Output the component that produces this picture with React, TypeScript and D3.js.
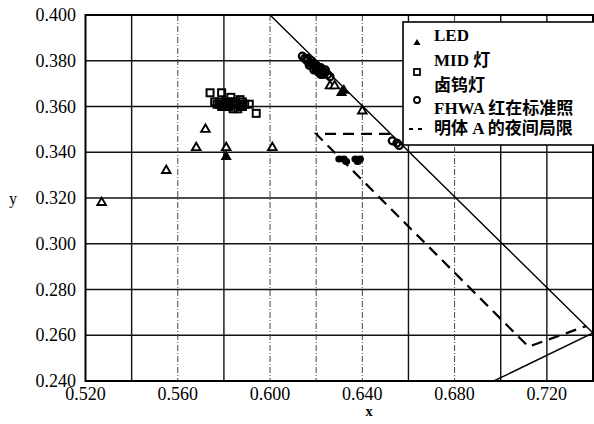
import React from "react";
import * as d3 from "d3";

const xTicks = [0.52, 0.56, 0.6, 0.64, 0.68, 0.72];
const xGrid = [0.54, 0.56, 0.58, 0.6, 0.62, 0.64, 0.66, 0.68, 0.7, 0.72];
const xGridDashed = [0.56, 0.6, 0.62, 0.64, 0.68];
const yTicks = [0.24, 0.26, 0.28, 0.3, 0.32, 0.34, 0.36, 0.38, 0.4];

const ledOpen: [number, number][] = [
  [0.527, 0.318], [0.555, 0.332], [0.568, 0.342], [0.572, 0.350],
  [0.581, 0.342], [0.601, 0.342], [0.626, 0.369], [0.628, 0.369], [0.640, 0.358],
];
const ledFilled: [number, number][] = [
  [0.581, 0.338], [0.631, 0.366], [0.632, 0.367],
];
const midLamp: [number, number][] = [
  [0.574, 0.366], [0.579, 0.366], [0.583, 0.364], [0.587, 0.363], [0.591, 0.361], [0.594, 0.357],
  [0.576, 0.362], [0.577, 0.361], [0.578, 0.362], [0.579, 0.360], [0.580, 0.361], [0.581, 0.362],
  [0.582, 0.360], [0.583, 0.361], [0.584, 0.359], [0.585, 0.362], [0.586, 0.361], [0.587, 0.360],
  [0.588, 0.362], [0.589, 0.361], [0.578, 0.361], [0.580, 0.360], [0.582, 0.362], [0.584, 0.361],
  [0.586, 0.359], [0.588, 0.360],
];
const halogen: [number, number][] = [
  [0.614, 0.382], [0.615, 0.381], [0.616, 0.380], [0.617, 0.379], [0.618, 0.379], [0.619, 0.378],
  [0.620, 0.377], [0.621, 0.377], [0.622, 0.376], [0.623, 0.375], [0.624, 0.375], [0.625, 0.374],
  [0.626, 0.373], [0.619, 0.376], [0.621, 0.375], [0.623, 0.374], [0.616, 0.381], [0.618, 0.380],
  [0.620, 0.378], [0.622, 0.377], [0.624, 0.376], [0.617, 0.378], [0.620, 0.376], [0.622, 0.374],
  [0.653, 0.345], [0.655, 0.344], [0.656, 0.343],
];
const filledBlobs: [number, number][] = [
  [0.630, 0.337], [0.632, 0.337], [0.633, 0.336], [0.637, 0.337], [0.638, 0.336], [0.639, 0.337],
];
const fhwaBoundary: [number, number][] = [[0.6, 0.4], [0.74, 0.261], [0.697, 0.24]];
const nightLimit: [number, number][] = [[0.652, 0.348], [0.62, 0.348], [0.712, 0.255], [0.737, 0.264]];

const legendLabels = ["LED", "MID 灯", "卤钨灯", "FHWA 红在标准照", "明体 A 的夜间局限"];

const W = 594, H = 424;
const x = d3.scaleLinear().domain([0.52, 0.74]).range([85.5, 593]);
const y = d3.scaleLinear().domain([0.24, 0.4]).range([381, 15]);
const line = d3.line<[number, number]>().x((d) => x(d[0])).y((d) => y(d[1]));
const tri = d3.symbol().type(d3.symbolTriangle).size(32)();
const triSmall = d3.symbol().type(d3.symbolTriangle).size(22)();

const FONT = "'Liberation Serif', 'Times New Roman', 'Noto Sans CJK SC', serif";

export default function App() {
  const pl = x.range()[0], pr = x.range()[1], pt = y.range()[1], pb = y.range()[0];
  return (
    <svg width={W} height={H} style={{ position: "absolute", left: 0, top: 0, background: "#fff" }} fontFamily={FONT}>
      <defs>
        <clipPath id="plot">
          <rect x={pl} y={pt} width={pr - pl} height={pb - pt} />
        </clipPath>
      </defs>
      {yTicks.map((t) => (
        <line key={"gy" + t} x1={pl} x2={pr} y1={y(t)} y2={y(t)} stroke="#111" strokeWidth={1.4} />
      ))}
      {xGrid.map((t) => {
        const dashed = xGridDashed.some((v) => Math.abs(v - t) < 1e-9);
        return (
          <line key={"gx" + t} x1={x(t)} x2={x(t)} y1={pt} y2={pb}
            stroke={dashed ? "#444" : "#111"} strokeWidth={dashed ? 1 : 1.4}
            strokeDasharray={dashed ? "6,2,1,2" : undefined} />
        );
      })}
      <rect x={pl} y={pt} width={pr - pl} height={pb - pt} fill="none" stroke="#000" strokeWidth={2} />
      <g clipPath="url(#plot)">
        <path d={line(fhwaBoundary) || ""} fill="none" stroke="#000" strokeWidth={1.4} />
        <path d={line(nightLimit) || ""} fill="none" stroke="#000" strokeWidth={2.2} strokeDasharray="11,7" />
        {filledBlobs.map((d, i) => (
          <ellipse key={"fb" + i} cx={x(d[0])} cy={y(d[1])} rx={4} ry={3.5} fill="#000" />
        ))}
        {midLamp.map((d, i) => (
          <rect key={"m" + i} x={x(d[0]) - 3.5} y={y(d[1]) - 3.5} width={7} height={7} fill="none" stroke="#000" strokeWidth={2} />
        ))}
        {halogen.map((d, i) => (
          <circle key={"h" + i} cx={x(d[0])} cy={y(d[1])} r={3.5} fill="none" stroke="#000" strokeWidth={2.2} />
        ))}
        {ledOpen.map((d, i) => (
          <path key={"lo" + i} d={tri || ""} transform={`translate(${x(d[0])},${y(d[1])})`} fill="#fff" stroke="#000" strokeWidth={1.9} />
        ))}
        {ledFilled.map((d, i) => (
          <path key={"lf" + i} d={tri || ""} transform={`translate(${x(d[0])},${y(d[1])})`} fill="#000" stroke="#000" strokeWidth={1.5} />
        ))}
      </g>
      {yTicks.map((t) => (
        <text key={"yl" + t} x={76} y={y(t) + 6} textAnchor="end" fontSize={18} fill="#000">{t.toFixed(3)}</text>
      ))}
      {xTicks.map((t) => (
        <text key={"xl" + t} x={x(t)} y={400} textAnchor="middle" fontSize={18} fill="#000">{t.toFixed(3)}</text>
      ))}
      <text x={13} y={204} textAnchor="middle" fontSize={16} fill="#000">y</text>
      <text x={369} y={416} textAnchor="middle" fontSize={14} fontWeight="bold" fill="#000">x</text>
      <g>
        <rect x={403} y={22} width={200} height={123} fill="#fff" stroke="#000" strokeWidth={1.6} />
        <path d={triSmall || ""} transform="translate(417,43)" fill="#000" />
        <rect x={414} y={69} width={6} height={6} fill="#fff" stroke="#000" strokeWidth={1.8} />
        <circle cx={417} cy={100} r={3} fill="#fff" stroke="#000" strokeWidth={1.8} />
        <line x1={409} x2={426} y1={129} y2={129} stroke="#000" strokeWidth={2} strokeDasharray="4,5" />
        {legendLabels.map((s, i) => (
          <text key={s} x={434} y={[41, 66, 91, 114, 134][i]} fontSize={17} fontWeight="bold" fill="#000">{s}</text>
        ))}
      </g>
    </svg>
  );
}
